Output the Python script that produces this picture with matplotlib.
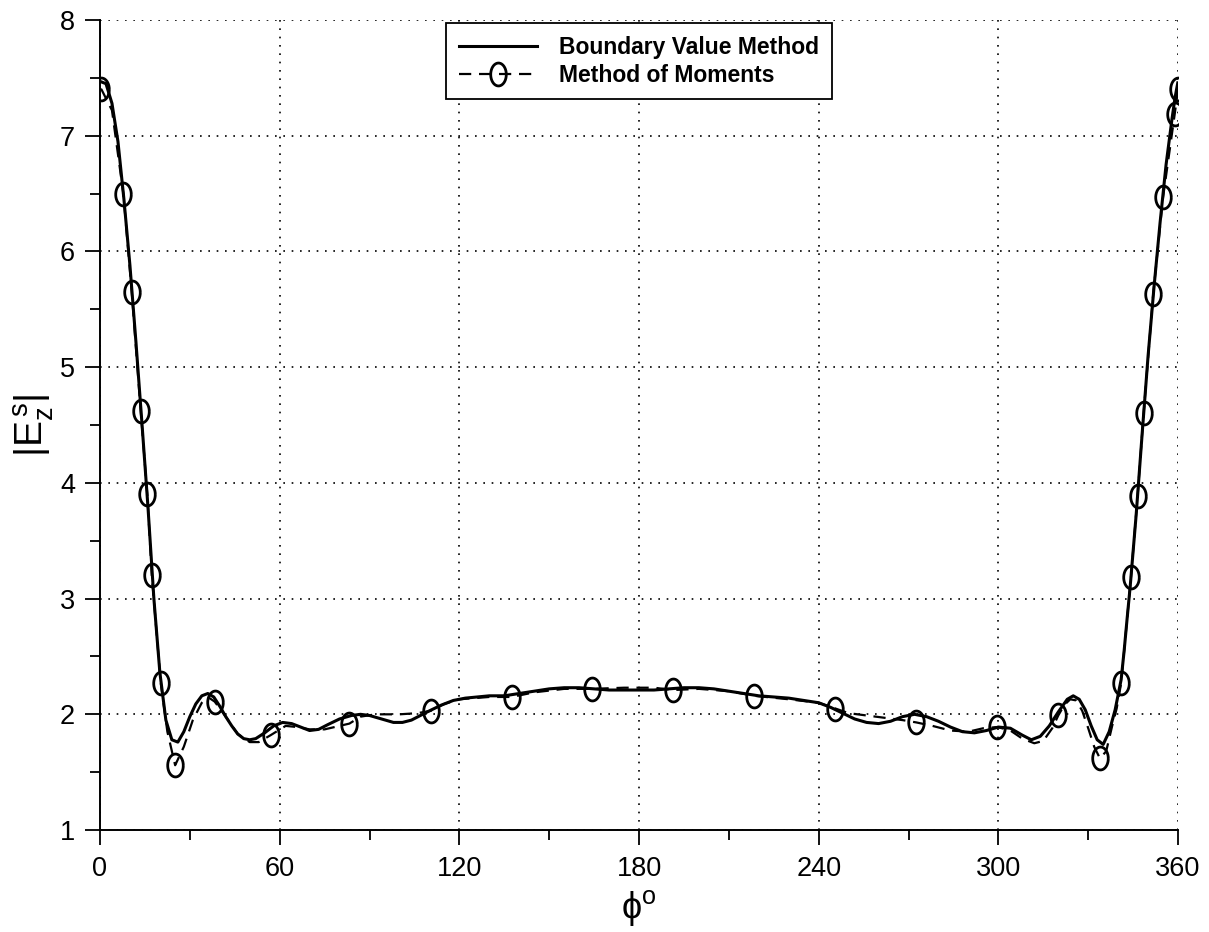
import numpy as np
import matplotlib
matplotlib.use("Agg")
import matplotlib.pyplot as plt
from matplotlib.lines import Line2D
from matplotlib.ticker import MultipleLocator

plt.rcParams['font.family'] = ['Liberation Sans', 'DejaVu Sans']
plt.rcParams['mathtext.fontset'] = 'custom'
plt.rcParams['mathtext.rm'] = 'Liberation Sans'
plt.rcParams['mathtext.it'] = 'Liberation Sans:italic'

# Boundary value method (solid)
bvm_phi = [0, 2, 4, 6, 8, 10, 12, 14, 16, 18, 20, 22, 24, 26, 28, 30, 32, 34, 36, 38,
           40, 42, 44, 46, 48, 50, 52, 55, 58, 61, 64, 67, 70, 73, 76, 80, 84, 87, 90,
           94, 98, 101, 104, 107, 110, 114, 118, 122, 126, 130, 135, 140, 145, 150, 155,
           160, 165, 170, 175, 180, 185, 190, 195, 200, 205, 210, 215, 220, 225, 230,
           235, 240, 244, 248, 252, 256, 260, 264, 268, 272, 276, 280, 284, 288, 292,
           296, 300, 304, 308, 311, 314, 317, 320, 323, 325, 327, 329, 331, 333, 335,
           337, 339, 341, 342, 343, 344, 346, 348, 350, 352, 354, 356, 358, 359, 360]
bvm_val = [7.47, 7.45, 7.28, 6.95, 6.45, 5.88, 5.22, 4.52, 3.80, 3.00, 2.36, 1.95, 1.78,
           1.76, 1.85, 1.98, 2.09, 2.16, 2.18, 2.15, 2.07, 1.98, 1.90, 1.83, 1.79, 1.78,
           1.79, 1.84, 1.90, 1.93, 1.92, 1.89, 1.86, 1.87, 1.91, 1.96, 1.99, 2.00, 1.99,
           1.96, 1.93, 1.93, 1.95, 1.99, 2.03, 2.08, 2.12, 2.14, 2.15, 2.16, 2.16, 2.18,
           2.20, 2.22, 2.23, 2.23, 2.22, 2.21, 2.21, 2.21, 2.21, 2.22, 2.23, 2.23, 2.22,
           2.20, 2.18, 2.16, 2.15, 2.14, 2.12, 2.10, 2.06, 2.01, 1.96, 1.93, 1.92, 1.94,
           1.98, 2.00, 1.98, 1.94, 1.89, 1.85, 1.84, 1.86, 1.89, 1.88, 1.82, 1.78, 1.81,
           1.90, 2.02, 2.13, 2.16, 2.13, 2.04, 1.90, 1.78, 1.74, 1.85, 2.04, 2.30, 2.55,
           2.83, 3.10, 3.72, 4.42, 5.10, 5.70, 6.25, 6.75, 7.15, 7.33, 7.47]

# Method of moments (dashed)
mom_phi = [0, 0.5, 4, 7.8, 10.6, 13.6, 15.8, 17.3, 20.3, 22.5, 25.1, 28, 31, 34, 36, 38.3,
           42, 46, 50, 53, 57.0, 62, 66, 70, 75, 80, 83.3, 87, 92, 100, 106, 110.4, 115,
           120, 130, 137.5, 145, 155, 164.4, 175, 185, 191.4, 200, 210, 218.5, 230, 240,
           245.6, 250, 256, 262, 268, 272.6, 278, 284, 290, 295, 299.7, 304, 308, 312,
           315, 318, 320, 322, 324, 326, 328, 330, 332, 333.9, 336, 338, 339.5, 341,
           344.3, 346.5, 348.5, 351.7, 355, 358.9, 360]
mom_val = [7.40, 7.40, 7.22, 6.50, 5.65, 4.62, 3.90, 3.20, 2.27, 1.85, 1.56, 1.72, 1.95,
           2.10, 2.15, 2.11, 1.98, 1.83, 1.76, 1.76, 1.82, 1.90, 1.89, 1.87, 1.87, 1.90,
           1.92, 1.98, 2.00, 2.00, 2.01, 2.03, 2.09, 2.13, 2.15, 2.15, 2.19, 2.22, 2.22,
           2.23, 2.23, 2.21, 2.22, 2.20, 2.16, 2.13, 2.10, 2.05, 2.01, 1.99, 1.97, 1.95,
           1.93, 1.90, 1.86, 1.85, 1.88, 1.89, 1.86, 1.79, 1.75, 1.77, 1.88, 1.99, 2.08,
           2.13, 2.12, 2.03, 1.88, 1.72, 1.62, 1.68, 1.90, 2.05, 2.27, 3.19, 3.89, 4.60,
           5.63, 6.47, 7.19, 7.40]
mom_marked = [1, 3, 4, 5, 6, 7, 8, 10, 15, 20, 26, 31, 35, 38, 41, 44, 47, 52, 57, 63,
              70, 74, 75, 76, 77, 78, 79, 80, 81]

xticks = [0, 60, 120, 180, 240, 300, 360]
yticks = [1, 2, 3, 4, 5, 6, 7, 8]

# tall ellipse marker, like the stretched circles of the original
t = np.linspace(0, 2 * np.pi, 40)
ellipse = list(zip(0.68 * np.cos(t), np.sin(t)))

fig = plt.figure(figsize=(12.09, 9.32), dpi=100)
ax = fig.add_axes([0.0827, 0.1094, 0.8917, 0.8691])

dash = (0, (5.5, 3.5))
ax.plot(bvm_phi, bvm_val, color='black', lw=2.2, solid_capstyle='butt')
ax.plot(mom_phi, mom_val, color='black', lw=1.6, ls=dash,
        marker=ellipse, markevery=mom_marked, ms=16.5, mfc='none', mec='black', mew=2.0)

ax.set_xlim(0, 360)
ax.set_ylim(1, 8)
ax.set_xticks(xticks)
ax.set_yticks(yticks)
ax.xaxis.set_minor_locator(MultipleLocator(30))
ax.yaxis.set_minor_locator(MultipleLocator(0.5))
ax.tick_params(which='major', length=11, width=1.3, labelsize=19.5, direction='out')
ax.tick_params(which='minor', length=7, width=1.3, direction='out')
ax.tick_params(axis='x', which='major', pad=8)
ax.tick_params(axis='y', which='major', pad=7)
ax.grid(True, which='major', color='black', ls=(0, (1, 4)), lw=1.2)
ax.spines['top'].set_visible(False)
ax.spines['right'].set_visible(False)
ax.spines['left'].set_linewidth(1.4)
ax.spines['bottom'].set_linewidth(1.4)

ax.set_xlabel('ϕ$^{\\mathrm{o}}$', fontsize=26, labelpad=4)
ax.set_ylabel('$|\\mathrm{E}_{\\mathrm{z}}^{\\mathrm{\\,s}}|$', fontsize=28, labelpad=3)

handles = [Line2D([], [], color='black', lw=2.2),
           Line2D([], [], color='black', lw=1.6, ls=dash, marker=ellipse,
                  ms=16.5, mfc='none', mec='black', mew=2.0)]
leg = ax.legend(handles, ['Boundary Value Method', 'Method of Moments'], loc='upper center',
                prop={'weight': 'bold', 'size': 16.5}, fancybox=False, framealpha=1,
                edgecolor='black', handlelength=3.4, handletextpad=1.0, borderaxespad=0.15,
                labelspacing=0.2, borderpad=0.55, numpoints=1)
leg.get_frame().set_linewidth(1.3)

fig.savefig('out.png', dpi=100)
